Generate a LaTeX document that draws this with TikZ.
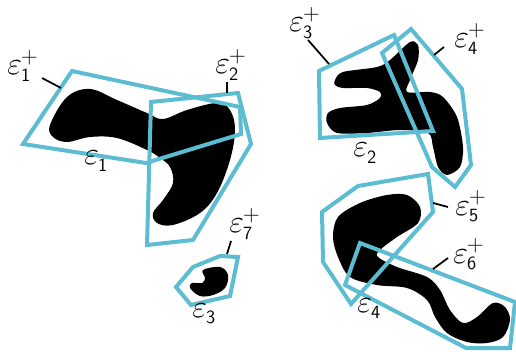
\documentclass[tikz,border=0pt]{standalone}
\usepackage{fontspec}
\definecolor{hull}{RGB}{92,188,210}
\tikzset{
  hullpoly/.style={draw=hull, line width=3pt, line join=miter},
  blob/.style={fill=black},
  lab/.style={anchor=base west, inner sep=0pt, font=\fontsize{20}{22}\selectfont},
  leader/.style={draw=black, line width=1.3pt}
}
\newcommand{\smallfs}{\fontsize{14}{15}\selectfont}
\newcommand{\plusfs}{\fontsize{16}{17}\selectfont}
\newcommand{\ep}[2]{\scalebox{1.15}{$\varepsilon$}\kern-0.5pt\rlap{\raisebox{8.5pt}{\plusfs$#2$}}\raisebox{-5.2pt}{\smallfs\sffamily #1}}
\begin{document}
\begin{tikzpicture}[x=0.75pt,y=-0.75pt]
\useasboundingbox (0,0) rectangle (516,352);
% blobs
\fill[blob] plot[smooth cycle, tension=0.6] coordinates {
 (50,125) (67,97) (90,89) (117,100) (147,113) (163,119) (187,110) (217,103) (230,110)
 (235,130) (230,160) (217,193) (200,213) (173,225) (157,223) (153,213)
 (163,200) (173,183) (170,167) (160,158) (147,150) (117,138) (90,137) (67,142) (53,137)};
\fill[blob] plot[smooth cycle, tension=0.6] coordinates {
 (203,270) (220,267) (228,275) (225,288) (213,295) (200,296) (190,288) (192,283)
 (202,283) (205,278)};
\fill[blob] plot[smooth cycle, tension=0.5] coordinates {
 (335,80) (343,72) (377,67) (390,60) (410,42) (418,45) (418,60) (410,80) (407,92)
 (430,92) (443,97) (457,117) (463,147) (460,167) (447,175) (438,167) (433,147) (428,133)
 (400,130) (367,133) (337,133) (327,123) (328,113) (340,108) (367,105) (380,98)
 (380,92) (367,88) (343,88) (335,85)};
\fill[blob] plot[smooth cycle, tension=0.55] coordinates {
 (407,195) (420,207) (418,223) (397,237) (380,250) (378,257) (397,267) (427,277)
 (440,290) (450,310) (463,323) (477,317) (493,303) (505,307) (510,320) (503,337)
 (487,343) (467,342) (447,333) (435,317) (427,300) (407,288) (377,285) (350,277)
 (338,257) (333,237) (338,217) (360,203) (387,195)};
% hulls
\draw[hullpoly] (72,71) -- (240,107) -- (241,134) -- (146,163) -- (23,144) -- cycle;
\draw[hullpoly] (151,102) -- (238,93) -- (251,144) -- (193,240) -- (147,245) -- cycle;
\draw[hullpoly] (176,287) -- (193,267) -- (220,256) -- (238,257) -- (230,296) -- (191,305) -- cycle;
\draw[hullpoly] (319,71) -- (394,35) -- (433,131) -- (320,138) -- cycle;
\draw[hullpoly] (382,53) -- (411,29) -- (462,89) -- (471,165) -- (455,187) -- (432,167) -- cycle;
\draw[hullpoly] (322,212) -- (358,186) -- (428,174) -- (433,212) -- (351,304) -- (323,262) -- cycle;
\draw[hullpoly] (360,243) -- (515,302) -- (510,348) -- (466,348) -- (345,285) -- cycle;
% labels
\node[lab] (l1p) at (7,75) {\ep{1}{+}};
\node[lab] (l2p) at (215,74) {\ep{2}{+}};
\node[lab] (l1) at (84,165) {\ep{1}{}};
\node[lab] (l3p) at (289,32) {\ep{3}{+}};
\node[lab] (l4p) at (454,48) {\ep{4}{+}};
\node[lab] (l2) at (353,157) {\ep{2}{}};
\node[lab] (l7p) at (229,233) {\ep{7}{+}};
\node[lab] (l3) at (192,317) {\ep{3}{}};
\node[lab] (l5p) at (455,215) {\ep{5}{+}};
\node[lab] (l6p) at (453,263) {\ep{6}{+}};
\node[lab] (l4) at (357,312) {\ep{4}{}};
% leaders
\coordinate (a1) at (42,78); \coordinate (b1) at (61,88);
\coordinate (a2) at (227,82); \coordinate (b2) at (227,93);
\coordinate (a3) at (308,40); \coordinate (b3) at (329,64);
\coordinate (a4) at (444,47); \coordinate (b4) at (434,55);
\coordinate (a7) at (231,241); \coordinate (b7) at (227,254);
\coordinate (a5) at (448,207); \coordinate (b5) at (433,203);
\coordinate (a6) at (448,258); \coordinate (b6) at (433,269);
\draw[leader] (a1) -- (b1);
\draw[leader] (a2) -- (b2);
\draw[leader] (a3) -- (b3);
\draw[leader] (a4) -- (b4);
\draw[leader] (a7) -- (b7);
\draw[leader] (a5) -- (b5);
\draw[leader] (a6) -- (b6);
\end{tikzpicture}
\end{document}
